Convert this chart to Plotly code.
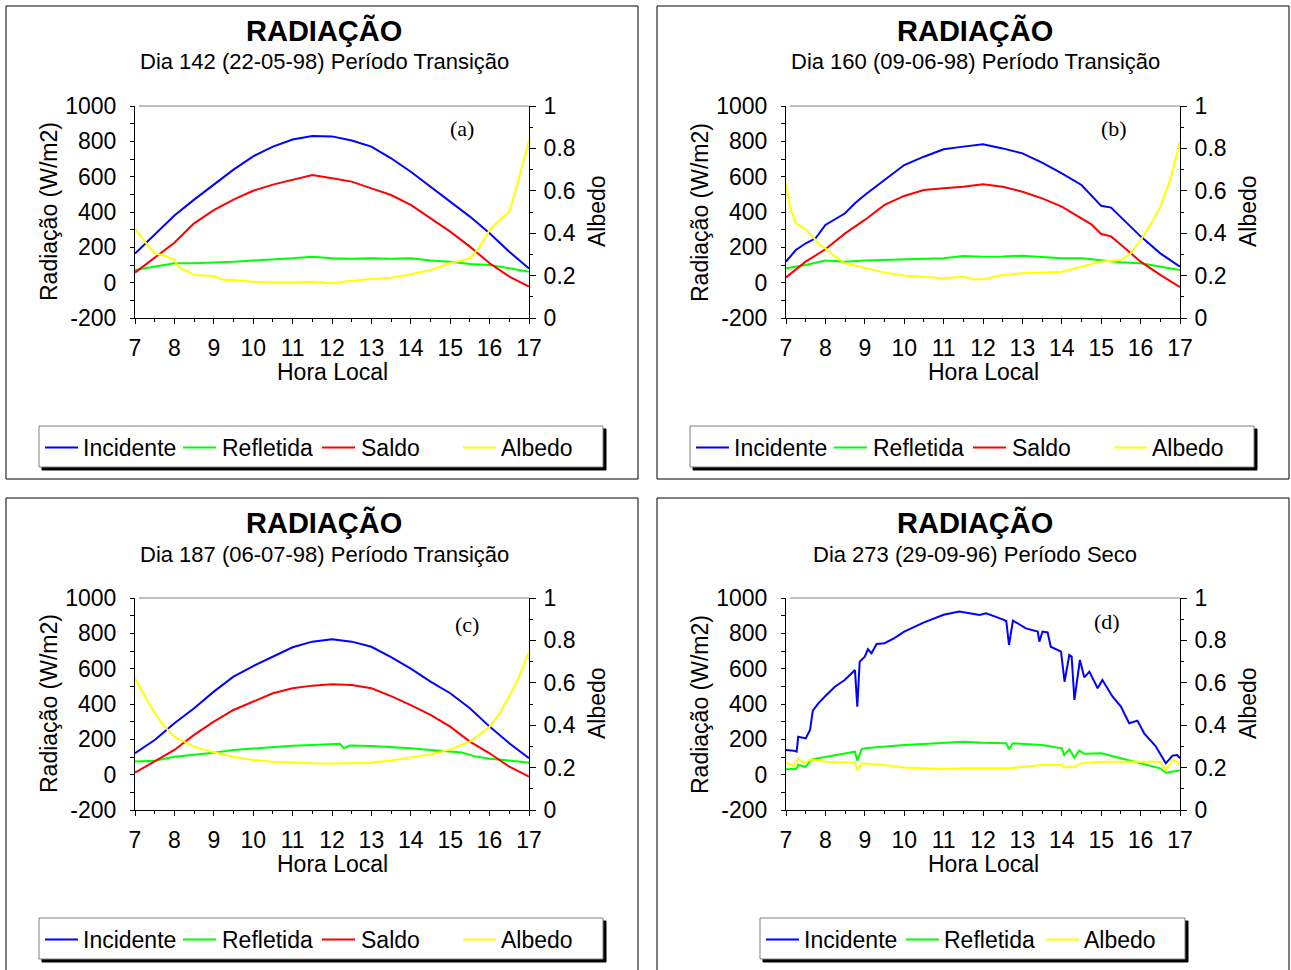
import plotly.graph_objects as go

# ---------------- data ----------------
HOURS_TICKS = [7, 8, 9, 10, 11, 12, 13, 14, 15, 16, 17]
RAD_TICKS = [-200, 0, 200, 400, 600, 800, 1000]
RAD_TICK_TEXT = ["-200", "0", "200", "400", "600", "800", "1000"]
ALB_TICKS = [0, 0.2, 0.4, 0.6, 0.8, 1]
ALB_TICK_TEXT = ["0", "0.2", "0.4", "0.6", "0.8", "1"]

# Panel (a) Dia 142
A_HOURS = [7, 7.5, 8, 8.5, 9, 9.5, 10, 10.5, 11, 11.5, 12, 12.5, 13, 13.5, 14, 14.5, 15, 15.5, 16, 16.5, 17]
A_INCIDENTE = [165, 270, 380, 470, 555, 640, 715, 770, 810, 830, 828, 805, 770, 704, 628, 543, 459, 374, 280, 175, 80]
A_REFLETIDA = [72, 91, 110, 110, 113, 118, 125, 130, 138, 147, 138, 135, 138, 135, 138, 125, 119, 106, 100, 81, 62]
A_SALDO = [57, 140, 226, 336, 410, 470, 520, 555, 583, 609, 591, 572, 534, 496, 440, 364, 289, 204, 110, 34, -23]
A_ALB_HOURS = [7, 7.25, 7.5, 7.75, 8, 8.1, 8.5, 9, 9.25, 9.5, 10, 10.5, 11, 11.5, 12, 12.5, 13, 13.5,
               14, 14.5, 15, 15.5, 15.75, 16, 16.25, 16.5, 16.75, 17]
A_ALBEDO = [0.423, 0.36, 0.305, 0.294, 0.274, 0.242, 0.203, 0.198, 0.18, 0.179, 0.171, 0.167, 0.167, 0.171,
            0.164, 0.176, 0.184, 0.19, 0.206, 0.226, 0.258, 0.281, 0.336, 0.415, 0.462, 0.50, 0.66, 0.84]

# Panel (b) Dia 160
B_INC_HOURS = [7, 7.25, 7.5, 7.75, 8, 8.5, 8.75, 9, 9.5, 10, 10.5, 11, 11.5, 12, 12.5, 13, 13.5, 14, 14.5,
               14.75, 15, 15.25, 15.5, 16, 16.5, 17]
B_INCIDENTE = [119, 185, 223, 251, 327, 393, 449, 496, 581, 666, 713, 755, 770, 783, 760, 732, 679, 619, 553,
               495, 435, 425, 370, 262, 166, 91]
B_HOURS = [7, 7.5, 8, 8.5, 9, 9.5, 10, 10.5, 11, 11.5, 12, 12.5, 13, 13.5, 14, 14.5, 15, 15.5, 16, 16.5, 17]
B_REFLETIDA = [81, 100, 125, 119, 125, 128, 132, 135, 138, 151, 147, 148, 153, 145, 138, 138, 125, 115, 110, 91, 72]
B_SAL_HOURS = [7, 7.5, 8, 8.5, 9, 9.5, 10, 10.5, 11, 11.5, 12, 12.5, 13, 13.5, 14, 14.5, 14.75, 15, 15.25,
               15.5, 16, 16.5, 17]
B_SALDO = [30, 119, 189, 279, 355, 440, 491, 525, 534, 543, 557, 543, 515, 477, 430, 364, 330, 275, 262,
           215, 119, 44, -26]
B_ALB_HOURS = [7, 7.1, 7.25, 7.5, 7.75, 7.85, 8, 8.25, 8.5, 9, 9.5, 10, 10.5, 11, 11.5, 11.75, 12, 12.5, 13,
               13.5, 14, 14.5, 15, 15.5, 15.75, 16, 16.25, 16.5, 16.75, 17]
B_ALBEDO = [0.63, 0.525, 0.447, 0.418, 0.368, 0.344, 0.329, 0.289, 0.258, 0.237, 0.214, 0.2, 0.195, 0.187,
            0.195, 0.183, 0.183, 0.203, 0.211, 0.214, 0.218, 0.242, 0.266, 0.274, 0.305, 0.368, 0.44, 0.525,
            0.65, 0.832]

# Panel (c) Dia 187
C_HOURS = [7, 7.5, 8, 8.5, 9, 9.5, 10, 10.5, 11, 11.5, 12, 12.5, 13, 13.5, 14, 14.5, 15, 15.5, 16, 16.5, 17]
C_INCIDENTE = [121, 196, 291, 376, 470, 555, 615, 668, 721, 753, 766, 753, 724, 665, 600, 527, 461, 376, 272, 178, 93]
C_SALDO = [11, 74, 140, 225, 300, 366, 413, 461, 489, 504, 512, 508, 489, 445, 394, 338, 272, 187, 121, 45, -11]
C_REF_HOURS = [7, 7.5, 8, 8.5, 9, 9.5, 10, 10.5, 11, 11.5, 12, 12.2, 12.3, 12.45, 13, 13.5, 14, 14.5, 15,
               15.3, 15.6, 16, 16.5, 17]
C_REFLETIDA = [74, 79, 102, 111, 124, 140, 149, 155, 164, 168, 172, 175, 150, 165, 162, 158, 150, 140, 130,
               125, 105, 90, 80, 68]
C_ALB_HOURS = [7, 7.25, 7.5, 7.75, 8, 8.5, 9, 9.5, 10, 10.5, 11, 11.5, 12, 12.5, 13, 13.5, 14, 14.5, 15,
               15.5, 16, 16.25, 16.5, 16.75, 17]
C_ALBEDO = [0.621, 0.535, 0.456, 0.393, 0.346, 0.299, 0.272, 0.251, 0.236, 0.228, 0.223, 0.22, 0.219, 0.22,
            0.223, 0.233, 0.248, 0.262, 0.286, 0.322, 0.393, 0.455, 0.535, 0.629, 0.747]

# Panel (d) Dia 273
D_INC_HOURS = [7, 7.2, 7.27, 7.31, 7.5, 7.61, 7.68, 7.82, 8, 8.24, 8.49, 8.75, 8.81, 8.87, 9, 9.08, 9.17,
               9.3, 9.5, 9.74, 10, 10.49, 11, 11.4, 11.91, 12.08, 12.5, 12.59, 12.66, 12.76, 13.09, 13.39,
               13.43, 13.51, 13.64, 13.72, 13.98, 14.07, 14.19, 14.25, 14.32, 14.46, 14.57, 14.7, 14.91,
               15.03, 15.29, 15.5, 15.71, 15.92, 16.09, 16.38, 16.64, 16.81, 16.93, 17]
D_INCIDENTE = [140, 136, 130, 215, 205, 253, 362, 404, 445, 498, 536, 592, 385, 640, 668, 710, 687, 740, 744,
               772, 810, 861, 905, 923, 904, 913, 879, 870, 734, 872, 828, 810, 753, 810, 805, 724, 696, 526,
               677, 668, 423, 649, 551, 583, 489, 536, 441, 385, 291, 306, 234, 162, 64, 108, 111, 93]
D_REF_HOURS = [7, 7.27, 7.31, 7.5, 7.65, 8, 8.49, 8.75, 8.81, 8.92, 9, 9.5, 10, 10.49, 11, 11.5, 12, 12.59,
               12.66, 12.76, 13.5, 14, 14.06, 14.19, 14.32, 14.44, 14.57, 15, 15.5, 16, 16.5, 16.64, 17]
D_REFLETIDA = [31, 34, 55, 45, 87, 102, 121, 130, 79, 144, 149, 159, 168, 174, 181, 187, 181, 178, 144, 178,
               168, 149, 111, 144, 96, 136, 119, 121, 93, 64, 36, 11, 23]
D_ALB_HOURS = [7, 7.2, 7.31, 7.44, 7.65, 8, 8.75, 8.81, 8.92, 9.5, 10, 11, 11.5, 12, 12.66, 13.5, 14, 14.06,
               14.32, 14.49, 15, 15.5, 16, 16.5, 16.64, 16.81, 17]
D_ALBEDO = [0.223, 0.208, 0.244, 0.22, 0.239, 0.228, 0.223, 0.189, 0.22, 0.212, 0.201, 0.193, 0.197, 0.197,
            0.197, 0.212, 0.212, 0.201, 0.204, 0.22, 0.228, 0.228, 0.228, 0.228, 0.189, 0.236, 0.22]

TITLE = "RADIAÇÃO"
SUBTITLES = ["Dia 142 (22-05-98) Período Transição", "Dia 160 (09-06-98) Período Transição",
             "Dia 187 (06-07-98) Período Transição", "Dia 273 (29-09-96) Período Seco"]
TAGS = ["(a)", "(b)", "(c)", "(d)"]
Y_LEFT_TITLE = "Radiação (W/m2)"
Y_RIGHT_TITLE = "Albedo"
X_TITLE = "Hora Local"
NAMES = ["Incidente", "Refletida", "Saldo", "Albedo"]
COLORS = {"Incidente": "#0000ff", "Refletida": "#00ff00", "Saldo": "#ff0000", "Albedo": "#ffff00"}

# ---------------- layout helpers ----------------
W, H = 1291, 970
FONT = "Liberation Sans, Arial, sans-serif"
SERIF = "Liberation Serif, Times New Roman, serif"


def px(x):
    return x / W


def py(y):
    return 1 - y / H


PANELS = [(0, 0), (651, 0), (0, 492), (651, 492)]
PLOT_L, PLOT_R, PLOT_T, PLOT_B = 135, 529, 106, 318
BOX = (6, 6, 638, 479)

series = [
    [("Incidente", A_HOURS, A_INCIDENTE), ("Refletida", A_HOURS, A_REFLETIDA), ("Saldo", A_HOURS, A_SALDO),
     ("Albedo", A_ALB_HOURS, A_ALBEDO)],
    [("Incidente", B_INC_HOURS, B_INCIDENTE), ("Refletida", B_HOURS, B_REFLETIDA),
     ("Saldo", B_SAL_HOURS, B_SALDO), ("Albedo", B_ALB_HOURS, B_ALBEDO)],
    [("Incidente", C_HOURS, C_INCIDENTE), ("Refletida", C_REF_HOURS, C_REFLETIDA), ("Saldo", C_HOURS, C_SALDO),
     ("Albedo", C_ALB_HOURS, C_ALBEDO)],
    [("Incidente", D_INC_HOURS, D_INCIDENTE), ("Refletida", D_REF_HOURS, D_REFLETIDA),
     ("Albedo", D_ALB_HOURS, D_ALBEDO)],
]

LEG_ABC = [(45, 83), (183, 222), (322, 361), (463, 501)]
LEG_ABC_BOX = (39, 426, 603, 467)
LEG_D = [(115, 153), (255, 293), (395, 433)]
LEG_D_BOX = (109, 426, 534, 467)
TAG_POS = [(462, 129), (463, 129), (467, 624 - 492), (456, 621 - 492)]

fig = go.Figure()
layout = dict(width=W, height=H, margin=dict(l=0, r=0, t=0, b=0, pad=0, autoexpand=False), autosize=False,
              paper_bgcolor="white", plot_bgcolor="white", showlegend=False)
shapes = []
annotations = []

for k in range(4):
    ox, oy = PANELS[k]
    xid = "x" if k == 0 else f"x{k + 1}"
    yid = "y" if k == 0 else f"y{k + 1}"
    y2id = f"y{k + 5}"
    xkey = "xaxis" if k == 0 else f"xaxis{k + 1}"
    ykey = "yaxis" if k == 0 else f"yaxis{k + 1}"
    y2key = f"yaxis{k + 5}"
    xdom = [px(PLOT_L + ox), px(PLOT_R + ox)]
    ydom = [py(PLOT_B + oy), py(PLOT_T + oy)]
    tickfont = dict(family=FONT, size=23, color="black")
    layout[xkey] = dict(domain=xdom, anchor=yid, range=[7, 17], tickvals=HOURS_TICKS, ticks="outside",
                        ticklen=5, tickcolor="black", showline=True, linecolor="black", linewidth=1,
                        showgrid=False, zeroline=False, tickfont=tickfont, ticklabelstandoff=4,
                        automargin=False,
                        minor=dict(dtick=0.5, tick0=7, ticks="outside", ticklen=3, tickcolor="black"))
    layout[ykey] = dict(domain=ydom, anchor=xid, range=[-200, 1000], tickvals=RAD_TICKS,
                        ticktext=RAD_TICK_TEXT, ticks="outside", automargin=False,
                        ticklen=4, tickcolor="black", showline=True, linecolor="black", linewidth=1,
                        showgrid=False, zeroline=False, tickfont=tickfont, ticklabelstandoff=9,
                        minor=dict(dtick=100, ticks="outside", ticklen=4, tickcolor="black"))
    layout[y2key] = dict(domain=ydom, anchor=xid, overlaying=yid, side="right", range=[0, 1],
                         tickvals=ALB_TICKS, ticktext=ALB_TICK_TEXT, ticks="outside", ticklen=6,
                         tickcolor="black", showline=True, automargin=False,
                         linecolor="black", linewidth=1, showgrid=False, zeroline=False, tickfont=tickfont,
                         ticklabelstandoff=3,
                         minor=dict(dtick=0.1, ticks="outside", ticklen=3, tickcolor="black"))

    for name, xs, ys in series[k]:
        fig.add_trace(go.Scatter(x=xs, y=ys, mode="lines", name=name,
                                 line=dict(color=COLORS[name], width=2),
                                 xaxis=xid, yaxis=(y2id if name == "Albedo" else yid),
                                 showlegend=False))

    shapes.append(dict(type="rect", xref="paper", yref="paper", x0=px(BOX[0] + ox), x1=px(BOX[2] + ox),
                       y0=py(BOX[1] + oy), y1=py(BOX[3] + oy), line=dict(color="black", width=1)))
    shapes.append(dict(type="line", xref="paper", yref="paper", x0=px(PLOT_L + 4 + ox), x1=px(PLOT_R + ox),
                       y0=py(PLOT_T + oy), y1=py(PLOT_T + oy), line=dict(color="#808080", width=1)))

    annotations.append(dict(text=TITLE, xref="paper", yref="paper", x=px(324 + ox), y=py(30 + oy),
                            xanchor="center", yanchor="middle", showarrow=False,
                            font=dict(family=FONT, size=29, color="black", weight="bold")))
    annotations.append(dict(text=SUBTITLES[k], xref="paper", yref="paper", x=px(324 + ox), y=py(62 + oy),
                            xanchor="center", yanchor="middle", showarrow=False,
                            font=dict(family=FONT, size=22, color="black")))
    annotations.append(dict(text=Y_LEFT_TITLE, xref="paper", yref="paper", x=px(49 + ox), y=py(212 + oy),
                            xanchor="center", yanchor="middle", showarrow=False, textangle=-90,
                            font=dict(family=FONT, size=23, color="black")))
    annotations.append(dict(text=Y_RIGHT_TITLE, xref="paper", yref="paper", x=px(597 + ox), y=py(211 + oy),
                            xanchor="center", yanchor="middle", showarrow=False, textangle=-90,
                            font=dict(family=FONT, size=23, color="black")))
    annotations.append(dict(text=X_TITLE, xref="paper", yref="paper", x=px(332 + ox), y=py(372 + oy),
                            xanchor="center", yanchor="middle", showarrow=False,
                            font=dict(family=FONT, size=23, color="black")))
    tx, ty = TAG_POS[k]
    annotations.append(dict(text=TAGS[k], xref="paper", yref="paper", x=px(tx + ox), y=py(ty + oy),
                            xanchor="center", yanchor="middle", showarrow=False,
                            font=dict(family=SERIF, size=22, color="black")))

    if k < 3:
        bx0, by0, bx1, by1 = LEG_ABC_BOX
        entries = list(zip(NAMES, LEG_ABC))
    else:
        bx0, by0, bx1, by1 = LEG_D_BOX
        entries = list(zip(["Incidente", "Refletida", "Albedo"], LEG_D))
    shapes.append(dict(type="rect", xref="paper", yref="paper", x0=px(bx0 + 3 + ox), x1=px(bx1 + 3 + ox),
                       y0=py(by0 + 3 + oy), y1=py(by1 + 3 + oy), fillcolor="black",
                       line=dict(color="black", width=1)))
    shapes.append(dict(type="rect", xref="paper", yref="paper", x0=px(bx0 + ox), x1=px(bx1 + ox),
                       y0=py(by0 + oy), y1=py(by1 + oy), fillcolor="white",
                       line=dict(color="#808080", width=1)))
    ly = (by0 + by1) / 2 + 1
    for name, (lx, tx2) in entries:
        shapes.append(dict(type="line", xref="paper", yref="paper", x0=px(lx + ox), x1=px(lx + 33 + ox),
                           y0=py(ly + oy), y1=py(ly + oy), line=dict(color=COLORS[name], width=2)))
        annotations.append(dict(text=name, xref="paper", yref="paper", x=px(tx2 - 2 + ox), y=py(ly + oy),
                                xanchor="left", yanchor="middle", showarrow=False,
                                font=dict(family=FONT, size=23, color="black")))

layout["shapes"] = shapes
layout["annotations"] = annotations
fig.update_layout(**layout)
fig.write_html("out.html", config={"displayModeBar": False},
               post_script="document.body.style.margin='0';document.body.style.padding='0';"
                           "document.documentElement.style.overflow='hidden';")
